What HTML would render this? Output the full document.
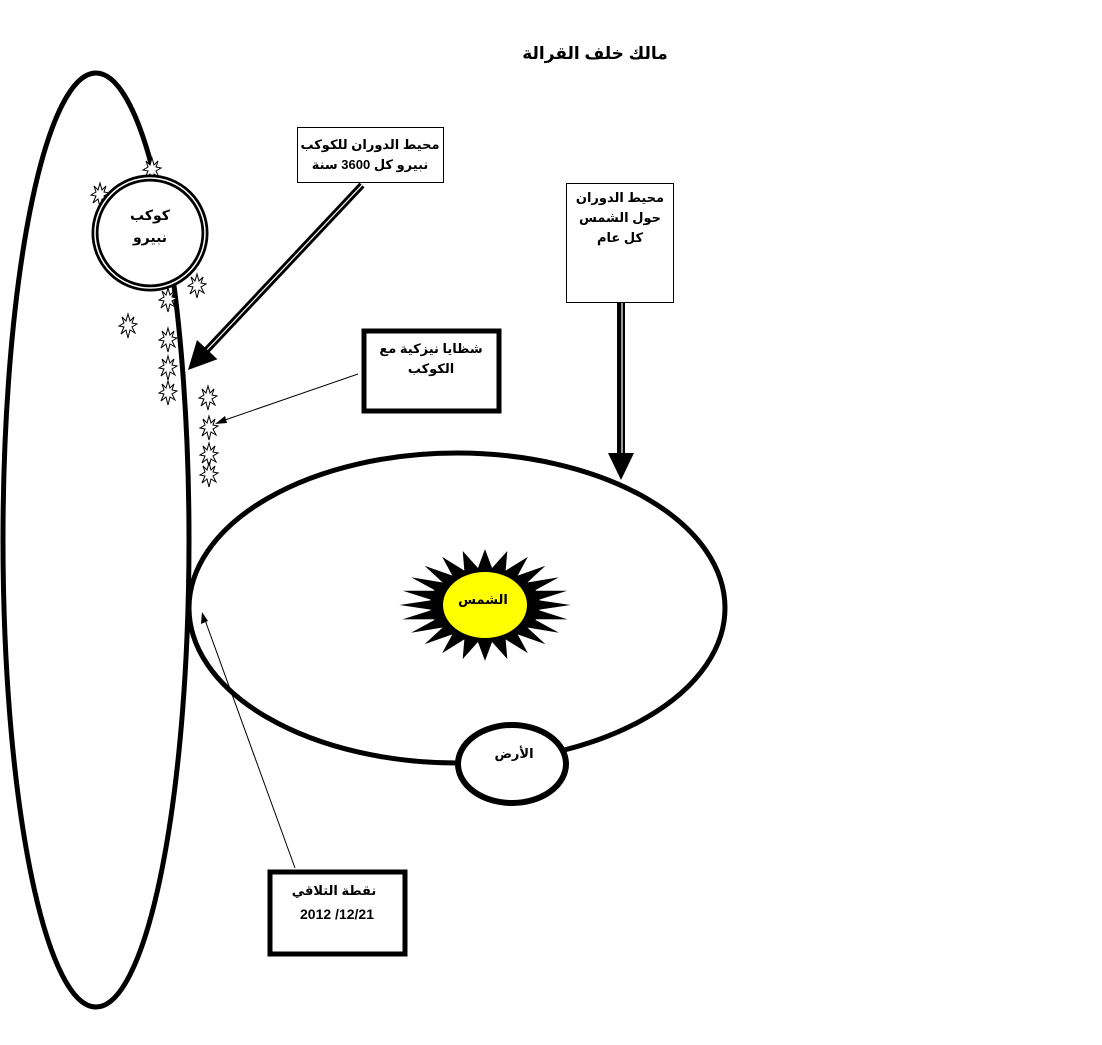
<!DOCTYPE html>
<html><head><meta charset="utf-8"><style>
html,body{margin:0;padding:0;background:#fff;}
svg{display:block;}
text{font-family:"Liberation Sans","DejaVu Sans",sans-serif;font-weight:bold;fill:#000;}
</style></head><body>
<svg width="1102" height="1045" viewBox="0 0 1102 1045" xmlns="http://www.w3.org/2000/svg">
<defs>
<polygon id="sb" points="0,-12 2,-5 6,-9 4,-3 9,-2 4,1 7,7 2,4 0,12 -2,4 -7,8 -4,1 -9,0 -4,-3 -6,-9 -2,-5" fill="#fff" stroke="#000" stroke-width="1"/>
</defs>
<text x="595" y="59" font-size="17" text-anchor="middle" direction="rtl">مالك خلف القرالة</text>

<!-- big orbit -->
<ellipse cx="96" cy="540" rx="93" ry="467" fill="none" stroke="#000" stroke-width="5"/>
<!-- sun orbit -->
<ellipse cx="457" cy="608" rx="268" ry="155" fill="none" stroke="#000" stroke-width="5"/>

<!-- starbursts -->
<use href="#sb" x="100" y="195"/>
<use href="#sb" x="152" y="170"/>
<use href="#sb" x="197" y="286"/>
<use href="#sb" x="168" y="300"/>
<use href="#sb" x="128" y="326"/>
<use href="#sb" x="168" y="340"/>
<use href="#sb" x="168" y="368"/>
<use href="#sb" x="168" y="393"/>
<use href="#sb" x="208" y="398"/>
<use href="#sb" x="209" y="428"/>
<use href="#sb" x="209" y="455"/>
<use href="#sb" x="209" y="475"/>

<!-- Nibiru -->
<circle cx="150" cy="233" r="55" fill="#fff" stroke="#000" stroke-width="7"/>
<circle cx="150" cy="233" r="55" fill="none" stroke="#fff" stroke-width="1.5"/>
<text x="150" y="220" font-size="14" text-anchor="middle" direction="rtl">كوكب</text>
<text x="150" y="242" font-size="14" text-anchor="middle" direction="rtl">نبيرو</text>

<!-- Sun -->
<polygon fill="#000" stroke="#fff" stroke-width="0.8" points="573,605 539.5,610 570,619.8 535.8,619.6 561.2,633.5 528.6,628.1 547.2,645.3 518.5,635.1 529,654.4 506.1,640.1 507.8,660.1 492.2,642.7 485,662 477.8,642.7 462.2,660.1 463.9,640.1 441,654.4 451.5,635.1 422.8,645.3 441.4,628.1 408.8,633.5 434.2,619.6 400,619.8 430.5,610 397,605 430.5,600 400,590.2 434.2,590.4 408.8,576.5 441.4,581.9 422.8,564.7 451.5,574.9 441,555.6 463.9,569.9 462.2,549.9 477.8,567.3 485,548 492.2,567.3 507.8,549.9 506.1,569.9 529,555.6 518.5,574.9 547.2,564.7 528.6,581.9 561.2,576.5 535.8,590.4 570,590.2 539.5,600"/>
<ellipse cx="485" cy="605" rx="42" ry="33" fill="#ffff00"/>
<text x="483" y="604" font-size="13" text-anchor="middle" direction="rtl">الشمس</text>

<!-- Earth -->
<ellipse cx="512" cy="764" rx="54" ry="39" fill="#fff" stroke="#000" stroke-width="6"/>
<text x="514" y="758" font-size="13" text-anchor="middle" direction="rtl">الأرض</text>

<!-- box1 -->
<rect x="297.5" y="127.5" width="146" height="55" fill="#fff" stroke="#000" stroke-width="1"/>
<text x="370" y="149" font-size="13" text-anchor="middle" direction="rtl">محيط الدوران للكوكب</text>
<text x="370" y="169" font-size="13" text-anchor="middle" direction="rtl">نبيرو كل  3600 سنة</text>

<!-- box2 -->
<rect x="566.5" y="183.5" width="107" height="119" fill="#fff" stroke="#000" stroke-width="1"/>
<text x="620" y="202" font-size="13" text-anchor="middle" direction="rtl">محيط الدوران</text>
<text x="620" y="222" font-size="13" text-anchor="middle" direction="rtl">حول الشمس</text>
<text x="620" y="242" font-size="13" text-anchor="middle" direction="rtl">كل عام</text>

<!-- box3 -->
<rect x="364" y="331" width="135" height="80" fill="#fff" stroke="#000" stroke-width="5"/>
<text x="431" y="353" font-size="13" text-anchor="middle" direction="rtl">شظايا نيزكية مع</text>
<text x="431" y="373" font-size="13" text-anchor="middle" direction="rtl">الكوكب</text>

<!-- box4 -->
<rect x="270" y="872" width="135" height="82" fill="#fff" stroke="#000" stroke-width="5"/>
<text x="334" y="895" font-size="13" text-anchor="middle" direction="rtl">نقطة التلاقي</text>
<text x="337" y="919" font-size="14" text-anchor="middle" font-family="Liberation Serif">2012 /12/21</text>

<!-- double arrow from box1 -->
<line x1="362" y1="185" x2="205" y2="352" stroke="#000" stroke-width="7"/>
<line x1="362" y1="185" x2="205" y2="352" stroke="#fff" stroke-width="1.2"/>
<polygon points="188,370 217.4,359.2 197,340" fill="#000"/>

<!-- vertical double arrow -->
<line x1="621" y1="303" x2="621" y2="455" stroke="#000" stroke-width="8"/>
<line x1="622" y1="303" x2="622" y2="455" stroke="#fff" stroke-width="1.2"/>
<polygon points="621,480 608,453 634,453" fill="#000"/>

<!-- thin arrows -->
<line x1="358" y1="374" x2="222" y2="421" stroke="#000" stroke-width="1"/>
<polygon points="215,424 225,416 227,423" fill="#000"/>
<line x1="295" y1="868" x2="205" y2="620" stroke="#000" stroke-width="1"/>
<polygon points="202,612 201,624 208,621" fill="#000"/>
</svg>
</body></html>
